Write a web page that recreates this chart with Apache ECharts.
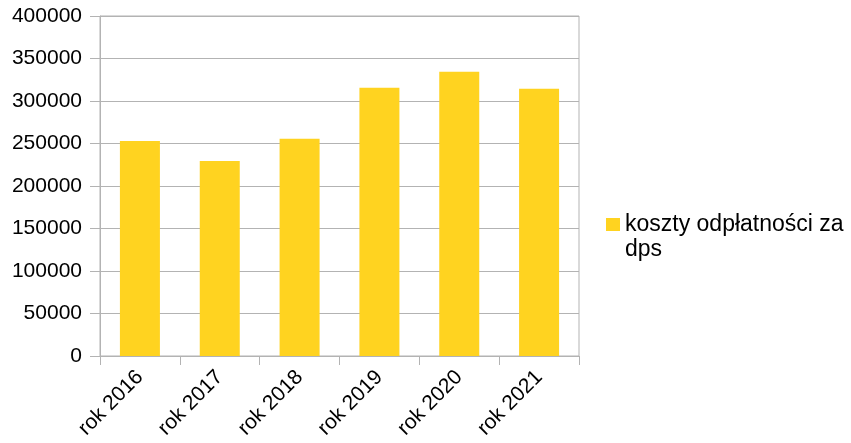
<!DOCTYPE html>
<html>
<head>
<meta charset="utf-8">
<style>
  html, body { margin: 0; padding: 0; background: #fff; }
  #chart { width: 851px; height: 443px; }
</style>
<script src="https://cdn.jsdelivr.net/npm/echarts@6/dist/echarts.min.js"></script>
</head>
<body>
<div id="chart"></div>
<script>
const categories = ['rok 2016', 'rok 2017', 'rok 2018', 'rok 2019', 'rok 2020', 'rok 2021'];
const costs = [253000, 229500, 255500, 315500, 334500, 314500];
const seriesName = 'koszty odpłatności za dps';

const chart = echarts.init(document.getElementById('chart'));
const gray = '#b3b3b3';
const font = 'Liberation Sans, Arial, sans-serif';

chart.setOption({
  animation: false,
  textStyle: { fontFamily: font },
  grid: {
    left: 100, right: 272, top: 16, bottom: 87,
    show: true, borderColor: gray, borderWidth: 1
  },
  legend: {
    data: [seriesName],
    left: 606,
    top: 188,
    padding: 0,
    icon: 'rect',
    itemWidth: 14,
    itemHeight: 13,
    itemGap: 7,
    // empty first line keeps the first text line level with the icon
    formatter: () => '{e| }\n{t|koszty odpłatności za}\n{t|dps}',
    textStyle: {
      fontSize: 23, color: '#000', fontFamily: font,
      rich: {
        e: { lineHeight: 25, fontSize: 23 },
        t: { lineHeight: 25, fontSize: 23, color: '#000', fontFamily: font }
      }
    }
  },
  xAxis: {
    type: 'category',
    data: categories,
    axisLine: { lineStyle: { color: gray } },
    axisTick: { show: true, length: 9, lineStyle: { color: gray } },
    axisLabel: {
      rotate: 45, margin: 18, fontSize: 21, color: '#000',
      fontFamily: font, interval: 0
    }
  },
  yAxis: {
    type: 'value',
    min: 0, max: 400000, interval: 50000,
    axisLine: { show: true, lineStyle: { color: gray } },
    axisTick: { show: true, length: 10, lineStyle: { color: gray } },
    splitLine: { lineStyle: { color: gray } },
    axisLabel: {
      margin: 18, fontSize: 21, color: '#000', fontFamily: font,
      formatter: v => String(v)
    }
  },
  series: [{
    name: seriesName,
    type: 'bar',
    data: costs,
    barWidth: 40,
    itemStyle: { color: '#ffd320' }
  }]
});
</script>
</body>
</html>
